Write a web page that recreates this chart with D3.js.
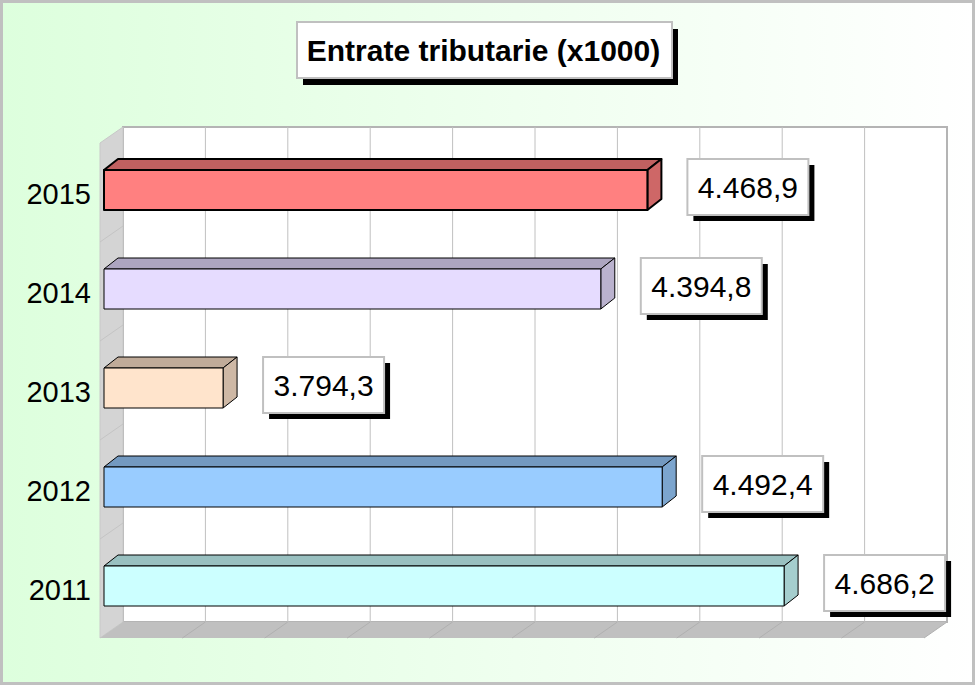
<!DOCTYPE html>
<html>
<head>
<meta charset="utf-8">
<script src="https://cdn.jsdelivr.net/npm/d3@7"></script>
<style>
  html, body { margin: 0; padding: 0; background: #fff; }
  svg { display: block; }
</style>
</head>
<body>
<div id="chart"></div>
<script>
// Data
const years = ['2015', '2014', '2013', '2012', '2011'];
const values = [4468.9, 4394.8, 3794.3, 4492.4, 4686.2];
const barColors = ['#ff8080', '#e6dcff', '#ffe4cc', '#99ccff', '#ccffff'];
const title = 'Entrate tributarie (x1000)';
const xMin = 3605, xMax = 4915;

const width = 975, height = 685;
const font = 'Arial, "Liberation Sans", sans-serif';

// plot box (back plane) and 3D depths
const back = { left: 123, right: 947, top: 127, bottom: 622 };
const wallDx = 23, wallDy = 16;
const barDx = 14, barDy = 11, barH = 40;

const it = d3.formatLocale({ decimal: ',', thousands: '.', grouping: [3], currency: ['', ''] });
const fmt = it.format(',.1f');

const svg = d3.select('#chart').append('svg')
  .attr('width', width)
  .attr('height', height);

// background gradient
const defs = svg.append('defs');
const grad = defs.append('linearGradient')
  .attr('id', 'bg')
  .attr('x1', 0).attr('y1', 0).attr('x2', 1).attr('y2', 0);
grad.append('stop').attr('offset', '0%').attr('stop-color', '#ddffdd');
grad.append('stop').attr('offset', '100%').attr('stop-color', '#ffffff');

svg.append('rect')
  .attr('x', 1.5).attr('y', 1.5)
  .attr('width', width - 3).attr('height', height - 3)
  .attr('fill', 'url(#bg)')
  .attr('stroke', '#c0c0c0')
  .attr('stroke-width', 3);

// scales
const xB = d3.scaleLinear().domain([xMin, xMax]).range([back.left, back.right]);
const xF = d3.scaleLinear().domain([xMin, xMax]).range([back.left - 19, back.right - 19]);
const y = d3.scaleBand().domain(years).range([back.top, back.bottom]);

const grid = d3.range(11).map(i => xMin + i * (xMax - xMin) / 10);

// back plane
svg.append('rect')
  .attr('x', back.left).attr('y', back.top)
  .attr('width', back.right - back.left)
  .attr('height', back.bottom - back.top)
  .attr('fill', '#ffffff')
  .attr('stroke', '#b4b4b4')
  .attr('stroke-width', 2);

// left wall
svg.append('polygon')
  .attr('points', [
    [back.left, back.top], [back.left, back.bottom],
    [back.left - wallDx, back.bottom + wallDy], [back.left - wallDx, back.top + wallDy]
  ].join(' '))
  .attr('fill', '#d4d4d4')
  .attr('stroke', '#c8c8c8');

// floor
svg.append('polygon')
  .attr('points', [
    [back.left, back.bottom], [back.right, back.bottom],
    [back.right - wallDx, back.bottom + wallDy], [back.left - wallDx, back.bottom + wallDy]
  ].join(' '))
  .attr('fill', '#c0c0c0');

// gridlines on back plane and floor
svg.append('g').selectAll('line')
  .data(grid.slice(1, -1))
  .join('line')
  .attr('x1', d => xB(d)).attr('x2', d => xB(d))
  .attr('y1', back.top).attr('y2', back.bottom)
  .attr('stroke', '#c0c0c0');

svg.append('g').selectAll('line')
  .data(grid.slice(1))
  .join('line')
  .attr('x1', d => xB(d)).attr('y1', back.bottom)
  .attr('x2', d => xB(d) - wallDx).attr('y2', back.bottom + wallDy)
  .attr('stroke', '#b0b0b0');

// wall lines at category boundaries
svg.append('g').selectAll('line')
  .data(years.slice(1))
  .join('line')
  .attr('x1', back.left).attr('y1', d => y(d))
  .attr('x2', back.left - wallDx).attr('y2', d => y(d) + wallDy)
  .attr('stroke', '#c4c4c4');

// bars
const bars = svg.append('g').selectAll('g')
  .data(years.map((yr, i) => ({ yr, v: values[i], c: barColors[i] })))
  .join('g')
  .attr('stroke', '#000')
  .attr('stroke-width', d => d.yr === '2015' ? 2 : 1)
  .attr('stroke-linejoin', 'round');

bars.each(function (d) {
  const g = d3.select(this);
  const x0 = xF(xMin), x1 = xF(d.v);
  const top = y(d.yr) + 43;
  const col = d3.rgb(d.c);
  g.append('polygon')
    .attr('points', [[x0, top], [x0 + barDx, top - barDy], [x1 + barDx, top - barDy], [x1, top]].join(' '))
    .attr('fill', col.darker(0.8));
  g.append('polygon')
    .attr('points', [[x1, top], [x1 + barDx, top - barDy], [x1 + barDx, top + barH - barDy], [x1, top + barH]].join(' '))
    .attr('fill', col.darker(0.6));
  g.append('rect')
    .attr('x', x0).attr('y', top)
    .attr('width', x1 - x0).attr('height', barH)
    .attr('fill', d.c);
});

// category labels
svg.append('g').selectAll('text')
  .data(years)
  .join('text')
  .attr('x', 91)
  .attr('y', d => y(d) + 43 + 34)
  .attr('text-anchor', 'end')
  .style('font-family', font)
  .style('font-size', '29px')
  .attr('fill', '#000')
  .text(d => d);

// value labels
const boxW = 121, boxH = 56, sh = 6;
const labels = svg.append('g').selectAll('g')
  .data(years.map((yr, i) => ({ yr, v: values[i] })))
  .join('g')
  .attr('transform', d => `translate(${xF(d.v) + 40},${y(d.yr) + 32})`);

labels.append('rect')
  .attr('x', sh).attr('y', sh)
  .attr('width', boxW).attr('height', boxH)
  .attr('fill', '#000');
labels.append('rect')
  .attr('width', boxW).attr('height', boxH)
  .attr('fill', '#fff')
  .attr('stroke', '#c0c0c0')
  .attr('stroke-width', 2);
labels.append('text')
  .attr('x', boxW / 2).attr('y', 39)
  .attr('text-anchor', 'middle')
  .style('font-family', font)
  .style('font-size', '30px')
  .attr('fill', '#000')
  .text(d => fmt(d.v));

// title
const tb = { x: 297, y: 22, w: 375, h: 56 };
svg.append('rect')
  .attr('x', tb.x + 6).attr('y', tb.y + 7)
  .attr('width', tb.w).attr('height', tb.h)
  .attr('fill', '#000');
svg.append('rect')
  .attr('x', tb.x).attr('y', tb.y)
  .attr('width', tb.w).attr('height', tb.h)
  .attr('fill', '#fff')
  .attr('stroke', '#c0c0c0')
  .attr('stroke-width', 2);
svg.append('text')
  .attr('x', tb.x + tb.w / 2 - 1).attr('y', 61)
  .attr('text-anchor', 'middle')
  .style('font-family', font)
  .style('font-size', '30px')
  .style('font-weight', 'bold')
  .attr('fill', '#000')
  .text(title);
</script>
</body>
</html>
